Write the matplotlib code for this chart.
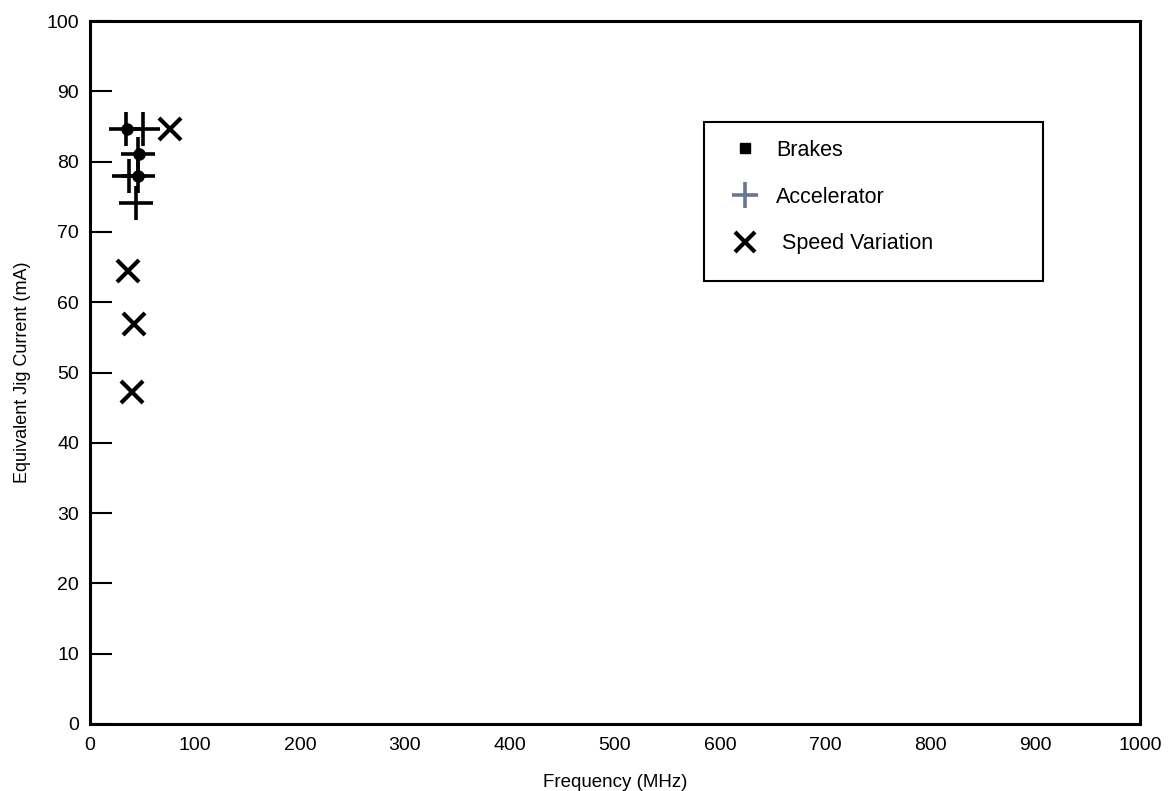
import matplotlib.pyplot as plt
from matplotlib.lines import Line2D
from matplotlib.patches import Rectangle

plt.rcParams['font.family'] = ['Liberation Sans', 'DejaVu Sans']

# data
brakes_x = [35, 47, 46]
brakes_y = [84.6, 81.1, 78.0]

accel_x = [34, 50, 46, 37, 46, 44]
accel_y = [84.6, 84.6, 81.1, 78.0, 78.0, 74.1]

speed_x = [76, 36, 42, 40]
speed_y = [84.6, 64.5, 56.9, 47.2]

x_ticks = [0, 100, 200, 300, 400, 500, 600, 700, 800, 900, 1000]
y_ticks = [0, 10, 20, 30, 40, 50, 60, 70, 80, 90, 100]

fig = plt.figure(figsize=(11.68, 7.91), dpi=100)
ax = fig.add_axes([90 / 1168, 67 / 791, 1050 / 1168, 703 / 791])

ax.plot(accel_x, accel_y, linestyle='none', marker='+', markersize=24,
        markeredgewidth=2.6, color='black', zorder=3)
ax.plot(brakes_x, brakes_y, linestyle='none', marker='o', markersize=8,
        color='black', zorder=4)
ax.plot(speed_x, speed_y, linestyle='none', marker='x', markersize=16,
        markeredgewidth=3, color='black', zorder=3)

ax.set_xlim(0, 1000)
ax.set_ylim(0, 100)
ax.set_xticks(x_ticks)
ax.set_yticks(y_ticks)
ax.tick_params(axis='x', length=0, labelsize=14, pad=9)
ax.tick_params(axis='y', direction='in', length=16, width=1.5, labelsize=14, pad=8)
for s in ax.spines.values():
    s.set_linewidth(2.2)

ax.set_xlabel('Frequency (MHz)', fontsize=13.5, labelpad=15)
ax.set_ylabel('Equivalent Jig Current (mA)', fontsize=13, labelpad=11)

# legend frame drawn separately so it can be larger than its contents
ax.add_patch(Rectangle((0.585, 0.630), 0.323, 0.226, transform=ax.transAxes,
                       facecolor='white', edgecolor='black', linewidth=1.5,
                       zorder=5))
handles = [
    Line2D([], [], linestyle='none', marker='s', markersize=7, color='black'),
    Line2D([], [], linestyle='none', marker='+', markersize=19,
           markeredgewidth=2.6, color='#6b7590'),
    Line2D([], [], linestyle='none', marker='x', markersize=15,
           markeredgewidth=3, color='black'),
]
labels = ['Brakes', 'Accelerator', ' Speed Variation']
leg = ax.legend(handles, labels, loc='upper left',
                bbox_to_anchor=(0.603, 0.831), fontsize=15.5, frameon=False,
                borderpad=0, labelspacing=1.2, handlelength=2.0,
                handletextpad=0.45, borderaxespad=0)
leg.set_zorder(6)

fig.savefig('out.png', dpi=100)
